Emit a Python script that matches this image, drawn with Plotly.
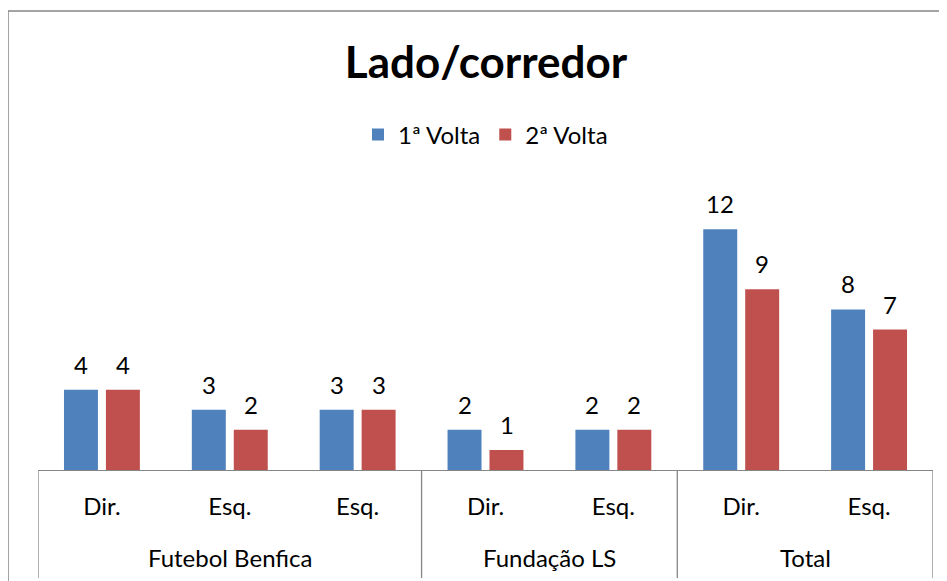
import plotly.graph_objects as go

# dados
grupos = ["Futebol Benfica", "Futebol Benfica", "Futebol Benfica",
          "Fundação LS", "Fundação LS", "Total", "Total"]
lados = ["Dir.", "Esq.", "Esq.", "Dir.", "Esq.", "Dir.", "Esq."]
volta1 = [4, 3, 3, 2, 2, 12, 8]
volta2 = [4, 2, 3, 1, 2, 9, 7]

FONT = "Lato, Calibri, 'Open Sans', sans-serif"
AZUL = "#4F81BD"
VERMELHO = "#C0504D"
CINZA = "#868686"

x = list(range(len(lados)))

fig = go.Figure()
fig.add_trace(go.Bar(x=x, y=volta1, name="1ª Volta",
                     marker=dict(color=AZUL, line=dict(width=0))))
fig.add_trace(go.Bar(x=x, y=volta2, name="2ª Volta",
                     marker=dict(color=VERMELHO, line=dict(width=0))))

# rótulos de dados acima das barras
for i in x:
    for vals, dx in ((volta1, -21), (volta2, 21)):
        fig.add_annotation(x=i, y=vals[i], text=str(vals[i]), showarrow=False,
                           xshift=dx, yshift=9, yanchor="bottom",
                           font=dict(family=FONT, size=24, color="#000"))

# grupos: rótulos e divisórias
limites = [0]
for i in range(1, len(grupos)):
    if grupos[i] != grupos[i - 1]:
        limites.append(i)
limites.append(len(grupos))

for a, b in zip(limites[:-1], limites[1:]):
    fig.add_annotation(x=(a + b - 1) / 2, y=-87 / 281, xref="x", yref="paper",
                       text=grupos[a], showarrow=False, yanchor="middle",
                       font=dict(family=FONT, size=24, color="#000"))

for b in limites:
    fig.add_shape(type="line", xref="x", yref="paper", x0=b - 0.5, x1=b - 0.5,
                  y0=0, y1=-108 / 281, line=dict(color=CINZA, width=1.3))

# moldura do gráfico
fig.add_shape(type="rect", xref="paper", yref="paper",
              x0=-30 / 895, x1=1.2, y0=-0.6, y1=1 + 178 / 281,
              line=dict(color=CINZA, width=1.5))

fig.update_layout(
    width=939, height=573,
    margin=dict(l=30, r=14, t=181, b=111),
    paper_bgcolor="white", plot_bgcolor="white",
    barmode="group", bargap=0.344, bargroupgap=0.19,
    title=dict(text="<b>Lado/corredor</b>", x=478 / 939, xanchor="center",
               y=1 - 55 / 573, yanchor="middle",
               font=dict(family=FONT, size=44, color="#000")),
    legend=dict(orientation="h", x=0.5, xanchor="center", y=1 + 54 / 281,
                yanchor="middle", font=dict(family=FONT, size=24, color="#000"),
                itemsizing="constant", traceorder="normal"),
    font=dict(family=FONT, size=24, color="#000"),
    xaxis=dict(range=[-0.5, len(lados) - 0.5], tickvals=x, ticktext=lados,
               showline=True, linecolor=CINZA, linewidth=1.3, showgrid=False,
               zeroline=False, ticks="", ticklabelstandoff=15,
               tickfont=dict(family=FONT, size=24, color="#000")),
    yaxis=dict(range=[0, 14], visible=False, showgrid=False),
    showlegend=True,
)

fig.write_html("out.html")
